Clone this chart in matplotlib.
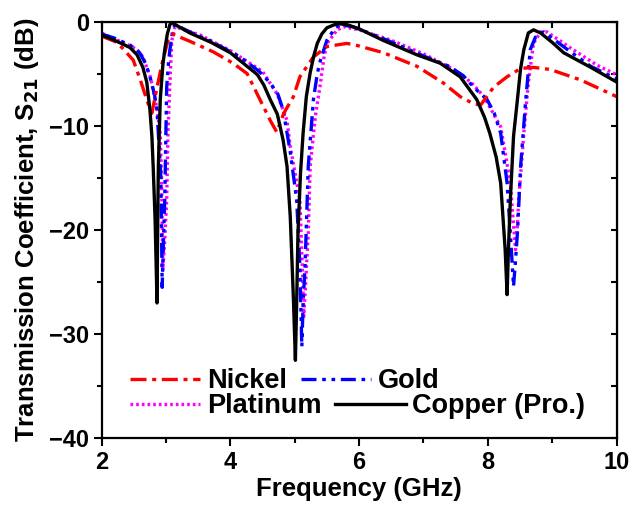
import numpy as np
import matplotlib.pyplot as plt

# frequency (GHz) / S21 (dB)
nickel_f = [2.0, 2.24, 2.49, 2.60, 2.70, 2.78, 2.86, 2.94, 3.03, 3.1, 3.37, 3.73, 4.04, 4.26, 4.46,
            4.62, 4.72, 4.83, 4.98, 5.08, 5.29, 5.50, 5.81, 5.97, 6.38, 6.90, 7.31, 7.57, 7.78, 7.89,
            8.09, 8.30, 8.51, 8.71, 8.97, 9.44, 10.0]
nickel_db = [-1.4, -2.0, -3.7, -5.6, -7.5, -8.8, -6.3, -4.0, -1.8, -1.2, -1.9, -2.9, -4.0, -5.0, -7.5,
             -9.5, -10.6, -8.8, -7.2, -5.3, -3.4, -2.4, -2.1, -2.3, -3.0, -4.3, -5.9, -7.2, -7.9, -8.0,
             -6.3, -5.3, -4.5, -4.4, -4.6, -5.6, -7.2]

gold_f = [2.0, 2.2, 2.45, 2.59, 2.68, 2.75, 2.82, 2.86, 2.88, 2.92, 2.94, 2.96, 2.98, 3.01, 3.04,
          3.06, 3.11, 3.14, 3.37, 3.7, 4.15, 4.45, 4.62, 4.74, 4.82, 4.93, 5.03, 5.08, 5.11, 5.13,
          5.16, 5.21, 5.29, 5.35, 5.40, 5.50, 5.63, 5.71, 5.9, 6.4, 7.0, 7.4, 7.62, 7.78, 7.99,
          8.1, 8.2, 8.3, 8.35, 8.40, 8.43, 8.46, 8.51, 8.59, 8.66, 8.74, 8.87, 9.24, 9.6, 10.0]
gold_db = [-1.2, -1.6, -2.3, -3.0, -4.0, -5.3, -7.0, -8.5, -10.7, -15.0, -25.5, -21.0, -17.1, -6.3, -3.8,
           -2.7, -0.6, -0.3, -1.0, -1.9, -3.4, -4.8, -5.9, -7.0, -8.5, -12.5, -17.1, -23.5, -31.2, -27.0,
           -23.5, -13.9, -7.5, -5.0, -3.7, -1.8, -0.6, -0.3, -0.5, -1.7, -3.3, -4.3, -5.2, -6.3, -7.5,
           -8.8, -10.7, -15.5, -20.3, -25.4, -23.0, -20.3, -13.9, -7.5, -2.7, -1.5, -1.0, -2.7, -4.3, -5.5]

platinum_f = [2.0, 2.13, 2.4, 2.55, 2.64, 2.70, 2.76, 2.80, 2.86, 2.91, 2.93, 2.95, 2.98, 3.01, 3.03,
              3.06, 3.09, 3.14, 3.53, 4.0, 4.5, 4.73, 4.88, 4.93, 5.08, 5.12, 5.14, 5.17, 5.21, 5.24,
              5.32, 5.40, 5.45, 5.50, 5.66, 5.76, 6.0, 6.5, 7.0, 7.5, 7.75, 7.94, 8.2, 8.35, 8.43,
              8.46, 8.48, 8.56, 8.63, 8.71, 8.82, 8.92, 9.3, 9.7, 10.0]
platinum_db = [-1.1, -1.5, -2.2, -2.7, -3.4, -4.4, -5.4, -6.6, -8.4, -10.7, -15.0, -23.8, -21.0, -17.1, -10.7,
               -5.9, -1.8, -0.5, -1.3, -2.8, -4.8, -7.0, -9.5, -12.0, -17.1, -24.0, -28.3, -25.0, -20.3, -13.9,
               -9.1, -5.9, -3.6, -2.1, -0.8, -0.5, -0.8, -1.8, -3.1, -4.7, -5.9, -7.2, -10.1, -15.5, -21.9,
               -19.5, -17.1, -10.7, -5.9, -2.1, -1.0, -1.0, -2.6, -4.2, -5.1]

copper_f = [2.0, 2.2, 2.44, 2.55, 2.64, 2.70, 2.75, 2.78, 2.80, 2.83, 2.86, 2.87, 2.88, 2.91, 2.95,
            2.98, 3.02, 3.06, 3.09, 3.2, 3.37, 3.7, 4.0, 4.2, 4.3, 4.42, 4.52, 4.62, 4.73, 4.82,
            4.88, 4.93, 4.98, 5.01, 5.03, 5.05, 5.09, 5.13, 5.18, 5.24, 5.30, 5.35, 5.42, 5.5, 5.66,
            5.81, 6.0, 6.37, 6.9, 7.26, 7.57, 7.83, 7.95, 8.03, 8.13, 8.20, 8.27, 8.30, 8.32, 8.35,
            8.40, 8.46, 8.51, 8.56, 8.63, 8.71, 8.82, 9.0, 9.18, 9.6, 10.0]
copper_db = [-1.3, -1.8, -2.5, -3.2, -4.4, -5.8, -8.5, -11.0, -13.9, -19.0, -27.0, -20.0, -14.0, -7.5, -4.2,
             -2.7, -1.2, -0.3, -0.1, -0.5, -1.1, -2.0, -3.0, -4.0, -4.5, -5.1, -6.1, -7.5, -8.9, -11.4,
             -13.9, -18.7, -26.7, -32.5, -27.0, -20.3, -14.5, -10.7, -7.2, -4.9, -3.2, -2.1, -1.2, -0.6, -0.2,
             -0.3, -0.7, -1.8, -3.2, -4.0, -5.3, -7.5, -9.2, -10.7, -13.0, -15.5, -21.9, -26.2, -22.0, -17.1,
             -11.0, -7.5, -4.5, -2.7, -1.1, -0.8, -1.1, -2.0, -3.0, -4.4, -5.8]

plt.rcParams['font.family'] = ['Liberation Sans', 'DejaVu Sans']
plt.rcParams['font.weight'] = 'bold'
plt.rcParams['mathtext.default'] = 'bf'

fig = plt.figure(figsize=(6.34, 5.12), dpi=100)
ax = fig.add_axes([0.1604, 0.1436, 0.8120, 0.8144])

lw = 2.4
kw = dict(lw=lw, solid_joinstyle='round', dash_joinstyle='round')
p_pt, = ax.plot(platinum_f, platinum_db, color='#ff00ff', linestyle=(0, (0.8, 0.9)), label='Platinum', **kw)
p_au, = ax.plot(gold_f, gold_db, color='#0000ff', linestyle=(0, (4.5, 1.7, 1.1, 1.7, 1.1, 1.7)), label='Gold', **kw)
p_ni, = ax.plot(nickel_f, nickel_db, color='#ff0000', linestyle=(0, (4.8, 1.7, 1.2, 1.7)), label='Nickel', **kw)
p_cu, = ax.plot(copper_f, copper_db, color='black', label='Copper (Pro.)', **kw)

ax.set_xlim(2, 10)
ax.set_ylim(-40, 0)
ax.set_xticks([2, 4, 6, 8, 10])
ax.set_xticks([3, 5, 7, 9], minor=True)
ax.set_yticks([0, -10, -20, -30, -40])
ax.set_yticks([-5, -15, -25, -35], minor=True)
ax.tick_params(which='major', direction='out', length=6, width=1.5, labelsize=17, pad=3)
ax.tick_params(which='minor', direction='out', length=3.5, width=1.5)
for s in ax.spines.values():
    s.set_linewidth(1.6)

# mirrored ticks on top and right, pointing inwards
top = ax.secondary_xaxis('top')
top.set_xticks(np.arange(2, 11, 1))
top.tick_params(direction='in', length=4, width=1.5, labeltop=False)
right = ax.secondary_yaxis('right')
right.set_yticks(np.arange(-40, 1, 5))
right.tick_params(direction='in', length=4, width=1.5, labelright=False)

ax.set_xlabel('Frequency (GHz)', fontsize=18.5, fontweight='bold', labelpad=2)
ax.set_ylabel('Transmission Coefficient, S$_{21}$ (dB)', fontsize=18.5, fontweight='bold', labelpad=6)

lprops = dict(ncol=2, frameon=False, loc='center left', borderaxespad=0, borderpad=0,
              handlelength=2.6, handletextpad=0.25, columnspacing=0.5,
              prop={'size': 19.5, 'weight': 'bold'})
leg1 = ax.legend([p_ni, p_au], ['Nickel', 'Gold'], bbox_to_anchor=(0.055, 0.137), **lprops)
ax.add_artist(leg1)
ax.legend([p_pt, p_cu], ['Platinum', 'Copper (Pro.)'], bbox_to_anchor=(0.055, 0.077), **lprops)

fig.savefig('out.png', dpi=100)
